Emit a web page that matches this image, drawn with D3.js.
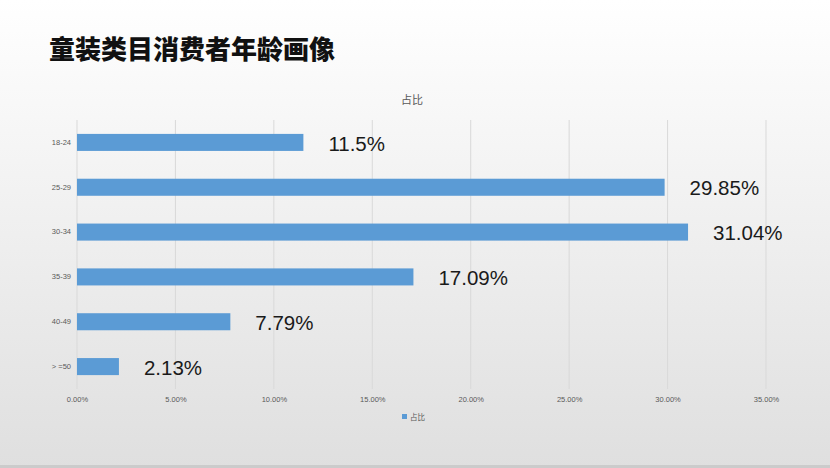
<!DOCTYPE html>
<html>
<head>
<meta charset="utf-8">
<script src="https://cdn.jsdelivr.net/npm/d3@7"></script>
<style>
  body { margin: 0; }
  svg { display: block; }
</style>
</head>
<body>
<script>
// Chart data
const ageGroups = ["18-24", "25-29", "30-34", "35-39", "40-49", "> =50"];
const shares = [11.5, 29.85, 31.04, 17.09, 7.79, 2.13];
const shareLabels = ["11.5%", "29.85%", "31.04%", "17.09%", "7.79%", "2.13%"];
const xTicks = [0, 5, 10, 15, 20, 25, 30, 35];

const width = 830;
const height = 468;
const font = "'Noto Sans CJK SC', 'Liberation Sans', sans-serif";
const latin = "'Liberation Sans', Arial, sans-serif";

const svg = d3.select("body").append("svg")
    .attr("width", width)
    .attr("height", height)
    .style("font-family", font);

// Background gradient
const grad = svg.append("defs").append("linearGradient")
    .attr("id", "bg")
    .attr("x1", 0).attr("y1", 0).attr("x2", 0).attr("y2", 1);
grad.append("stop").attr("offset", "0%").attr("stop-color", "#ffffff");
grad.append("stop").attr("offset", "100%").attr("stop-color", "#dfdfdf");

svg.append("rect")
    .attr("width", width)
    .attr("height", height)
    .attr("fill", "url(#bg)");
svg.append("rect")
    .attr("y", height - 3)
    .attr("width", width)
    .attr("height", 3)
    .attr("fill", "#cbcbcb");

// Page title
svg.append("text")
    .attr("x", 49)
    .attr("y", 59)
    .attr("font-size", 26)
    .attr("font-weight", 900)
    .attr("fill", "#111")
    .text("童装类目消费者年龄画像");

// Chart title
svg.append("text")
    .attr("x", 412)
    .attr("y", 104)
    .attr("text-anchor", "middle")
    .attr("font-size", 11)
    .attr("fill", "#595959")
    .text("占比");

// Scales
const x = d3.scaleLinear()
    .domain([0, 35])
    .range([77, 766]);

const y = d3.scaleBand()
    .domain(ageGroups)
    .range([120, 389])
    .paddingInner(0.62)
    .paddingOuter(0.31);

// Grid lines
svg.append("g")
    .selectAll("line")
    .data(xTicks)
    .join("line")
    .attr("x1", d => x(d))
    .attr("x2", d => x(d))
    .attr("y1", 120)
    .attr("y2", 389)
    .attr("stroke", "#d9d9d9")
    .attr("stroke-width", 1);

// X axis
const xAxis = svg.append("g")
    .attr("transform", "translate(0,389)")
    .call(d3.axisBottom(x)
      .tickValues(xTicks)
      .tickSize(0)
      .tickPadding(8)
      .tickFormat(d => d.toFixed(2) + "%"));
xAxis.select(".domain").remove();
xAxis.selectAll("text")
    .attr("font-family", latin)
    .attr("font-size", 7.5)
    .attr("fill", "#595959");

// Y axis
const yAxis = svg.append("g")
    .attr("transform", "translate(77,0)")
    .call(d3.axisLeft(y).tickSize(0).tickPadding(6));
yAxis.select(".domain").remove();
yAxis.selectAll("text")
    .attr("font-family", latin)
    .attr("font-size", 7.5)
    .attr("fill", "#595959");

// Bars
svg.append("g")
    .selectAll("rect")
    .data(shares)
    .join("rect")
    .attr("x", x(0))
    .attr("y", (d, i) => y(ageGroups[i]))
    .attr("width", d => x(d) - x(0))
    .attr("height", y.bandwidth())
    .attr("fill", "#5b9bd5");

// Value labels
svg.append("g")
    .selectAll("text")
    .data(shares)
    .join("text")
    .attr("x", d => x(d) + 25)
    .attr("y", (d, i) => y(ageGroups[i]) + y.bandwidth() / 2 + 1)
    .attr("dy", "0.35em")
    .attr("font-family", latin)
    .attr("font-size", 20.5)
    .attr("fill", "#1a1a1a")
    .text((d, i) => shareLabels[i]);

// Legend
svg.append("rect")
    .attr("x", 402)
    .attr("y", 414)
    .attr("width", 5)
    .attr("height", 5)
    .attr("fill", "#5b9bd5");
svg.append("text")
    .attr("x", 410)
    .attr("y", 419.5)
    .attr("font-size", 7.5)
    .attr("fill", "#595959")
    .text("占比");
</script>
</body>
</html>
